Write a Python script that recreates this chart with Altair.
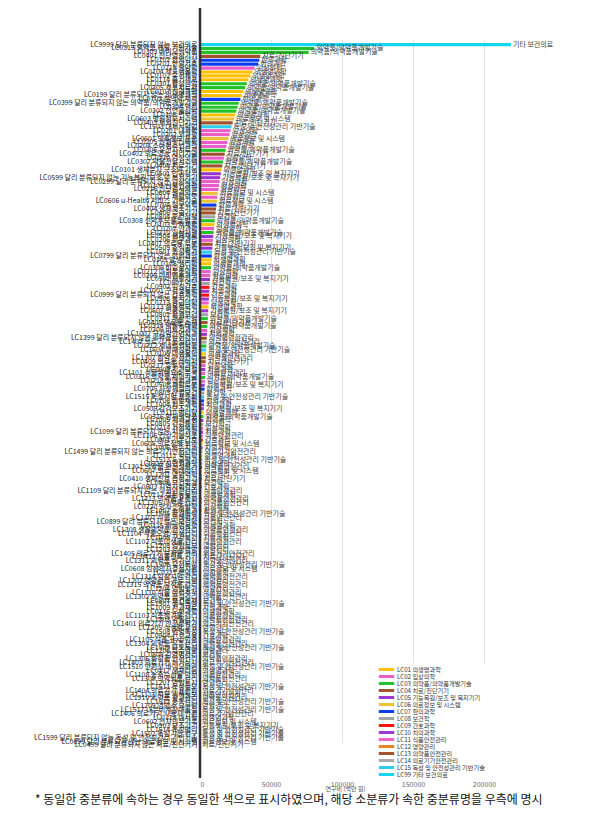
import altair as alt
import pandas as pd

FONT = "Noto Sans CJK KR"

names = [
    "LC9999 달리 분류되지 않는 보건의료", "LC0313 의약품 개발 기반기술", "LC0303 바이오의약품", "LC0401 진단영상기기", "LC0702 한의임상", "LC0701 한의기초", "LC0215 종양학", "LC0104 세포생물학", "LC0102 유전체학", "LC0114 줄기세포",
    "LC0301 합성신약", "LC0305 세포치료제", "LC0107 신경과학", "LC0199 달리 분류되지 않는 의생명과학", "LC0703 한의약 제제", "LC0399 달리 분류되지 않는 의약품/의약품개발기술", "LC0304 백신", "LC0302 천연물신약", "LC0106 면역학", "LC0603 병원정보시스템",
    "LC0403 체외진단기기", "LC1503 대체시험법", "LC0201 내과학", "LC0202 외과학", "LC0601 의료정보 표준", "LC0205 신경정신의학", "LC0204 소아청소년과학", "LC0306 유전자치료제", "LC0402 의료영상 처리기술", "LC0210 영상의학",
    "LC0307 약물전달시스템", "LC0405 치료기기", "LC0101 생체분자 구조와 기능", "LC0501 인공장기", "LC0599 달리 분류되지 않는 기능복원/보조 및 복지기기", "LC0299 달리 분류되지 않는 임상의학", "LC0203 산부인과학", "LC0216 진단검사의학", "LC0604 원격의료", "LC0211 재활의학",
    "LC0606 u-Health 서비스 기반기술", "LC0704 침구의학", "LC0404 생체계측기기", "LC0406 수술기기", "LC0804 보건정책", "LC0308 신약후보물질 발굴", "LC0103 단백체학", "LC0207 안과학", "LC0310 임상시험", "LC0504 생체재료",
    "LC0206 피부과학", "LC0407 의료용 로봇", "LC0505 조직공학", "LC1501 독성평가", "LC0799 달리 분류되지 않는 한의과학", "LC0105 발생/분화", "LC0108 생리학", "LC0309 비임상시험", "LC0212 마취통증의학", "LC0208 이비인후과학",
    "LC0502 재활기기", "LC0801 역학", "LC0902 임상간호", "LC1001 구강생물학", "LC0999 달리 분류되지 않는 간호과학", "LC0506 복지기기", "LC0213 응급의학", "LC0113 생물정보학", "LC0507 인공감각기", "LC0802 환경보건",
    "LC0311 개량신약", "LC0408 의료용 소재", "LC0314 약물동태학", "LC0209 비뇨기과학", "LC1002 구강악안면외과", "LC1399 달리 분류되지 않는 의약품안전관리", "LC1402 의료기기 품질관리", "LC0312 제네릭의약품", "LC1504 위해성평가", "LC0109 미생물학",
    "LC1307 한약 안전관리", "LC0409 의료용 레이저", "LC0217 흉부외과학", "LC1003 치과보철", "LC1101 식품위해요소 분석", "LC0315 의약품 제형기술", "LC0218 정형외과학", "LC0508 재활로봇", "LC0705 사상체질의학", "LC0803 산업보건",
    "LC1515 독성시험 표준화", "LC0706 한방재활", "LC1004 치주과학", "LC0509 감각보조기기", "LC0110 병리학", "LC0316 항체의약품", "LC1005 치과교정", "LC0805 건강증진", "LC0214 가정의학", "LC1099 달리 분류되지 않는 치의과학",
    "LC1106 건강기능식품", "LC0901 기본간호", "LC0605 의료정보 보안", "LC1006 보존치과", "LC1499 달리 분류되지 않는 의료기기안전관리", "LC0111 약리학", "LC1513 노출평가", "LC0219 성형외과학", "LC1301 의약품 안전성평가", "LC0607 의료 빅데이터",
    "LC1201 영양역학", "LC0410 생체신호 측정기기", "LC0806 보건통계", "LC0903 지역사회간호", "LC1109 달리 분류되지 않는 식품안전관리", "LC0112 실험동물학", "LC1313 의약품 표준화", "LC1305 마약류 관리", "LC0220 방사선종양학", "LC1007 소아치과",
    "LC1505 환경독성", "LC1107 식품 위해평가", "LC0899 달리 분류되지 않는 보건학", "LC0115 의생명공학", "LC1308 생물의약품 안전관리", "LC1104 식품오염/위생관리", "LC1008 구강보건", "LC1102 식품미생물 관리", "LC1208 영양정보", "LC1203 임상영양",
    "LC1405 의료기기 부작용 관리", "LC0411 임플란트 기기", "LC1311 의약품 허가심사", "LC1506 유전독성", "LC0608 임상의사결정지원", "LC0221 핵의학", "LC1314 임상시험 관리", "LC1202 영양관리 프로그램", "LC1315 의약품 부작용 관리", "LC1204 영양평가",
    "LC1110 식품 이력추적", "LC1302 의약품 품질관리", "LC0807 보건경제", "LC1507 생식독성", "LC1009 치과재료", "LC0116 노화과학", "LC1103 식품첨가물 관리", "LC1303 약물감시", "LC1401 의료기기 안전성평가", "LC1205 식생활 교육",
    "LC1508 면역독성", "LC0904 간호교육", "LC1105 식품 표시/인증", "LC1304 의약품 유통관리", "LC1509 나노독성", "LC1206 특수영양", "LC0808 감염병관리", "LC1306 화장품 안전관리", "LC1403 의료기기 허가심사", "LC1510 안전성 바이오마커",
    "LC0117 생체리듬", "LC1108 농축수산물 안전", "LC1309 의약외품 관리", "LC1207 영양표시", "LC1511 독성정보", "LC1404 의료기기 표준화", "LC1111 식품 위해정보", "LC1310 의약품 광고관리", "LC1512 중독관리", "LC1209 영양소 요구량",
    "LC1517 내분비계장애물질", "LC1406 의료기기 사용자 안전", "LC0118 대사학", "LC0602 전자의무기록", "LC0503 보조기기", "LC1514 독성병리", "LC1502 독성기전 연구", "LC1599 달리 분류되지 않는 독성 및 안전성관리 기반기술", "LC0699 달리 분류되지 않는 의료정보 및 시스템", "LC0499 달리 분류되지 않는 치료/진단기기",
]

values = [
    219000, 80500, 76500, 42500, 41800, 41000, 38500, 37000, 35500, 34000,
    33000, 31800, 30500, 29500, 28500, 27300, 26500, 25600, 24800, 23900,
    23000, 22200, 21500, 20800, 20000, 19300, 18600, 18000, 17400, 16800,
    16200, 15700, 15200, 14700, 14200, 13800, 13400, 13000, 12600, 12200,
    11900, 11600, 11300, 11000, 10700, 10400, 10100, 9850, 9600, 9350,
    9100, 8900, 8700, 8500, 8300, 8100, 7900, 7700, 7500, 7300,
    7100, 6900, 6700, 6550, 6400, 6250, 6100, 5950, 5800, 5650,
    5500, 5350, 5200, 5050, 4900, 4750, 4600, 4480, 4360, 4240,
    4120, 4000, 3880, 3760, 3640, 3520, 3400, 3290, 3180, 3070,
    2960, 2860, 2760, 2660, 2560, 2470, 2380, 2290, 2200, 2120,
    2040, 1960, 1890, 1820, 1750, 1690, 1630, 1570, 1510, 1460,
    1410, 1360, 1310, 1260, 1220, 1180, 1140, 1100, 1060, 1020,
    980, 950, 920, 890, 860, 830, 800, 775, 750, 725,
    700, 680, 660, 640, 620, 600, 580, 560, 540, 520,
    500, 480, 465, 450, 435, 420, 405, 390, 375, 360,
    345, 330, 315, 300, 285, 270, 255, 240, 225, 210,
    195, 180, 165, 150, 138, 126, 114, 102, 90, 80,
    72, 64, 56, 48, 40, 33, 26, 20, 14, 8,
]

mid_codes = ["LC01", "LC02", "LC03", "LC04", "LC05", "LC06", "LC07", "LC08",
             "LC09", "LC10", "LC11", "LC12", "LC13", "LC14", "LC15", "LC99"]
mid_names = ["의생명과학", "임상의학", "의약품/의약품개발기술", "치료/진단기기",
             "기능복원/보조 및 복지기기", "의료정보 및 시스템", "한의과학", "보건학",
             "간호과학", "치의과학", "식품안전관리", "영양관리", "의약품안전관리",
             "의료기기안전관리", "독성 및 안전성관리 기반기술", "기타 보건의료"]
mid_colors = ["#FFC000", "#E85DC8", "#22C32A", "#A0522D", "#9A36D0", "#EDC232",
              "#0A3CF0", "#A3A3A3", "#FF1010", "#9A36D0", "#EE62C8", "#EE8022",
              "#A0522D", "#A8A8A8", "#2ECBEA", "#14D6F2"]

x_ticks = [0, 50000, 100000, 150000, 200000]
x_title = "연구비 (백만 원)"
footnote = "* 동일한 중분류에 속하는 경우 동일한 색으로 표시하였으며, 해당 소분류가 속한 중분류명을 우측에 명시"

code2name = dict(zip(mid_codes, mid_names))
legend_domain = [c + " " + n for c, n in zip(mid_codes, mid_names)]

df = pd.DataFrame({"name": names, "value": values})
df["mid"] = df["name"].str[:4]
df["midname"] = df["mid"].map(code2name)
df["legend"] = df["mid"] + " " + df["midname"]

y_scale = alt.Scale(range=[35, 739], paddingInner=0.2, paddingOuter=0)
y_enc = alt.Y(
    "name:N", sort=names, scale=y_scale,
    axis=alt.Axis(title=None, ticks=False, domain=False, labelFontSize=7,
                  labelColor="#222", labelPadding=3, labelLimit=400,
                  labelFont=FONT),
)
x_enc = alt.X(
    "value:Q",
    scale=alt.Scale(domain=[0, 250000], nice=False, zero=True),
    axis=alt.Axis(values=x_ticks, format="d", title=x_title, titleFontSize=6,
                  titleFontWeight="normal", titleFont=FONT, titleColor="#555",
                  titleX=145, titlePadding=-2,
                  labelFontSize=7, labelColor="#666", labelFont=FONT,
                  domain=False, ticks=False, grid=True, gridColor="#e3e3e3",
                  gridWidth=1, labelPadding=2),
)

base = alt.Chart(df)
bars = base.mark_bar().encode(
    y=y_enc, x=x_enc,
    color=alt.Color(
        "legend:N",
        scale=alt.Scale(domain=legend_domain, range=mid_colors),
        legend=alt.Legend(
            title=None, orient="none", legendX=180, legendY=655,
            fillColor="white", padding=3, labelFontSize=6.2, labelFont=FONT,
            labelColor="#333", symbolType="M-2.2,-0.42H2.2V0.42H-2.2Z",
            symbolStrokeWidth=0, symbolSize=49, rowPadding=-0.6,
            labelLimit=300, labelOffset=7,
        ),
    ),
)
labels = base.mark_text(align="left", baseline="middle", dx=2, fontSize=7,
                        font=FONT, color="#444").encode(
    y=alt.Y("name:N", sort=names, scale=y_scale), x="value:Q", text="midname:N")

vline = alt.Chart(pd.DataFrame({"x": [0]})).mark_rule(
    color="#333", strokeWidth=2.5).encode(x="x:Q")

chart = alt.layer(bars, labels, vline).properties(
    width=355, height=770,
    padding={"left": 192, "top": 0, "right": 53, "bottom": 37},
    autosize="none",
    title=alt.TitleParams(text=footnote, orient="bottom", anchor="start",
                          frame="group", dx=-165, offset=4, fontSize=12,
                          font=FONT, fontWeight="normal", color="#111"),
).configure_view(stroke=None)

chart.save("out.html", embed_options={"renderer": "svg", "actions": False})
